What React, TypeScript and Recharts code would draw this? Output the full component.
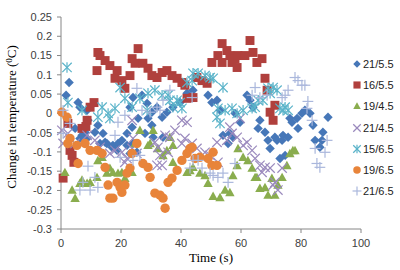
import { ScatterChart, Scatter, XAxis, YAxis, Legend } from 'recharts'

// time (s), change in temperature (°C) for each run
const s21_55: [number, number][] = [
  [1.7, 0.047], [2.7, 0.08], [4.7, -0.039], [5.7, 0.028], [6.3, 0.016], [6.3, -0.065], [7, -0.057], [8, -0.049],
  [8.7, 0.008], [8.7, -0.065], [9, -0.018], [11.3, -0.049], [12.3, -0.031], [13, -0.078], [14, -0.052], [14.7, -0.075],
  [15.3, -0.078], [17, -0.088], [17.3, -0.083], [19, -0.078], [18.7, -0.096], [20.3, -0.07], [22, -0.052], [22, -0.083],
  [23, 0.016], [23, -0.104], [23.7, -0.036], [24, 0.041], [24, -0.078], [25.3, -0.101], [25.7, -0.013], [27, 0.047],
  [28, -0.052], [28.7, 0.026], [29, -0.013], [30.3, 0.003], [30.3, -0.031], [30.7, -0.062], [32, 0.016], [33.7, -0.01],
  [34, -0.062], [35.3, 0.003], [37.3, 0.016], [39.7, 0.028], [42, 0.052], [44, 0.06], [49, 0.047], [50.3, 0.028],
  [52, 0.034], [53, 0.008], [54, -0.057], [55.7, -0.078], [56.3, -0.052], [57.3, -0.062], [58, 0], [59.7, -0.023],
  [62, 0.047], [63, 0.034], [64, 0.016], [65.7, -0.039], [66.3, -0.018], [68, -0.049], [69, -0.07], [69.7, -0.091],
  [71.3, -0.062], [72, -0.07], [73, -0.117], [73.7, -0.07], [74, -0.057], [74.7, -0.109], [75.7, -0.062], [76.3, -0.013],
  [77, -0.023], [78.7, -0.013], [79, -0.039], [80.3, 0], [81.3, 0.008], [83, 0], [84, -0.031], [84.7, -0.07],
  [86.3, -0.088], [87, -0.07], [87.3, -0.049], [89, -0.01],
]
const s16_55: [number, number][] = [
  [0.7, -0.168], [2.3, -0.026], [3, -0.096], [3.7, -0.109], [4.3, -0.127], [7, -0.039], [8.3, -0.034], [8.7, -0.018],
  [9.7, 0.016], [11, 0.028], [12, 0.111], [12.3, 0.158], [13, 0.15], [14.7, 0.137], [16.3, 0.124], [18, 0.091],
  [18.7, 0.111], [20.3, 0.085], [21.3, 0.065], [23, 0.098], [23.7, 0.142], [24.7, 0.13], [25.7, 0.168], [27.3, 0.13],
  [29, 0.117], [30.3, 0.098], [32, 0.093], [33.7, 0.106], [35.3, 0.111], [37, 0.098], [38.7, 0.091], [40.3, 0.08],
  [41.3, 0.073], [42, 0.039], [44, 0.041], [45.3, 0.093], [47, 0.085], [48.7, 0.078], [50.3, 0.132], [52.3, 0.15],
  [53.7, 0.181], [53.7, 0.132], [55.3, 0.163], [56.3, 0.15], [57, 0.132], [58, 0.142], [58.7, 0.119], [59, 0.15],
  [61.3, 0.15], [63, 0.189], [64, 0.158], [65.3, 0.132], [67, 0.142], [68, 0.091], [68.7, 0.06], [69.7, 0.003],
  [70.7, -0.018], [71.3, 0.021],
]
const s19_45: [number, number][] = [
  [1.3, -0.153], [3.7, -0.199], [4.7, -0.22], [6.3, -0.181], [7, -0.173], [8.7, -0.181], [9.7, -0.179], [12, -0.166],
  [12.3, -0.122], [13.7, -0.114], [15.3, -0.155], [16.3, -0.142], [17.3, -0.153], [19, -0.155], [20.3, -0.153], [21.3, -0.168],
  [23.7, -0.153], [24.7, -0.078], [26.3, -0.044], [29, -0.083], [29.7, -0.078], [30.7, -0.044], [32.3, -0.091], [34, -0.109],
  [35.3, -0.096], [36.3, -0.062], [37.3, -0.083], [37.3, -0.127], [42, -0.153], [43, -0.148], [44, -0.14], [46.3, -0.155],
  [48, -0.161], [49, -0.181], [50.7, -0.215], [53, -0.218], [54.7, -0.199], [56.3, -0.205], [57.3, -0.161], [58.7, -0.135],
  [59, -0.091], [60.7, -0.114], [62.3, -0.122], [63.7, -0.142], [64.7, -0.166], [65.3, -0.166], [66.3, -0.194], [68, -0.192],
  [69, -0.212], [70.3, -0.168], [71.3, -0.212], [72.3, -0.186], [73.7, -0.166], [75.3, -0.135], [76.3, -0.104], [77.3, -0.096],
  [78, -0.096],
]
const s21_45: [number, number][] = [
  [0.3, -0.044], [0.7, -0.078], [2.3, -0.052], [4.7, -0.078], [8.7, -0.057], [11.3, -0.07], [13, -0.088], [16.3, -0.104],
  [18, -0.096], [20.3, -0.101], [21.3, -0.127], [22, -0.117], [23.7, -0.018], [23.7, -0.091], [24, -0.065], [25.3, -0.104],
  [31.3, -0.075], [32, -0.135], [32.3, -0.088], [33, -0.109], [33.7, -0.135], [34.7, -0.057], [35.7, -0.101], [36.3, -0.062],
  [38, -0.044], [40.3, -0.018], [40.3, -0.078], [41.3, -0.065], [42, -0.023], [43.7, -0.078], [45.3, -0.091], [48, -0.101],
  [49.7, -0.109], [52, -0.075], [52.3, -0.127], [55.3, -0.07], [56.3, -0.036], [57, -0.052], [58.7, -0.062], [59.7, -0.013],
  [60.7, -0.083], [62, -0.075], [63.7, -0.096], [64.7, -0.117], [66.3, -0.135], [67, -0.153], [68, -0.14], [69.7, -0.142],
  [70.7, -0.186], [71.3, -0.179], [72.3, -0.199], [73.7, -0.142],
]
const s15_65: [number, number][] = [
  [2, 0.119], [2.3, 0.028], [7, 0.008], [12.3, -0.01], [13.7, 0.016], [15.7, 0], [16.3, -0.013], [18, 0.013],
  [19.7, 0.067], [21.3, 0.039], [23.7, 0.016], [26.3, 0.039], [28.7, 0.008], [29, 0.052], [31.3, 0.06], [33.7, 0.047],
  [35.7, 0.047], [36.3, 0.034], [37.3, 0.016], [38.7, 0.034], [39.7, 0.028], [40.3, 0.013], [42, 0.08], [43.7, 0.085],
  [44, 0.104], [45.7, 0.104], [48, 0.098], [49.7, 0.093], [50.7, 0.091], [52, -0.01], [52.3, 0.013], [53, -0.026],
  [54, 0.067], [54.7, 0.008], [57, 0.013], [58.7, 0], [60.7, 0.008], [63.7, 0.013], [64.7, 0.016], [65.7, 0.034],
  [67.3, 0.034], [69, 0.065], [69.7, 0.052], [70.7, 0.067], [72, 0.06], [73, 0.013], [74, 0.008], [74.7, 0.016],
  [75.7, 0.008],
]
const s19_65: [number, number][] = [
  [0.3, 0.003], [2, -0.01], [2.3, -0.078], [3, -0.065], [5.3, -0.083], [5.7, -0.13], [8, -0.078], [9.7, -0.096],
  [12, -0.096], [13.7, -0.104], [14.7, -0.14], [15.7, -0.186], [16.3, -0.22], [17.3, -0.22], [18.7, -0.179], [19.7, -0.192],
  [20.3, -0.205], [21.3, -0.186], [22, -0.155], [23, -0.142], [23.7, -0.104], [25.3, -0.078], [27.3, -0.13], [29, -0.14],
  [29.7, -0.166], [31.3, -0.207], [33, -0.212], [34, -0.22], [34.7, -0.246], [35.7, -0.179], [37, -0.168], [38.7, -0.148],
  [40.3, -0.122], [42, -0.104], [43, -0.091], [43.7, -0.088], [44.7, -0.117], [46.3, -0.114], [49, -0.117], [50.3, -0.135],
  [50.7, -0.101], [52, -0.135],
]
const s21_65: [number, number][] = [
  [0.7, 0.008], [0.7, -0.052], [3, -0.026], [6.3, -0.199], [7.3, -0.179], [9, -0.137], [9.7, -0.199], [11.3, -0.166],
  [12.3, -0.192], [18, -0.057], [19, -0.023], [19.7, -0.114], [21.3, -0.005], [24, -0.122], [25.3, 0.065], [26.3, -0.109],
  [27, 0.008], [29.7, 0.003], [32, 0.016], [33, 0.008], [34, 0.034], [36.3, 0.06], [43, -0.142], [43.7, 0.041],
  [44, -0.122], [45.7, -0.122], [47, -0.142], [49.7, -0.155], [50.7, -0.161], [52.3, -0.166], [54, -0.155], [55.7, -0.179],
  [58, -0.13], [63.7, 0.047], [64.7, 0.067], [66.3, 0.041], [68.7, 0.047], [73.7, 0.041], [74.7, 0.047], [75.7, 0.06],
  [78, 0.093], [79, 0.085], [80.3, 0.073], [81.3, 0.073], [82.3, 0.031], [82, 0.013], [83.7, -0.018], [84.7, -0.091],
  [85.3, -0.13], [86.3, -0.14], [88, -0.101], [88.7, -0.07],
]

const xTicks = [0, 20, 40, 60, 80, 100]
const yTicks = [-0.3, -0.25, -0.2, -0.15, -0.1, -0.05, 0, 0.05, 0.1, 0.15, 0.2, 0.25]

const SERIES = [
  { name: '21/5.5', data: s21_55, kind: 'diamond', color: '#4677b8' },
  { name: '16/5.5', data: s16_55, kind: 'square', color: '#b0403d' },
  { name: '19/4.5', data: s19_45, kind: 'triangle', color: '#8aad4e' },
  { name: '21/4.5', data: s21_45, kind: 'x', color: '#9a89bd' },
  { name: '15/6.5', data: s15_65, kind: 'star', color: '#5ab3c9' },
  { name: '19/6.5', data: s19_65, kind: 'circle', color: '#e8843a' },
  { name: '21/6.5', data: s21_65, kind: 'plus', color: '#aab7dc' },
]

function Marker({ kind, cx, cy, color, s = 1 }: { kind: string, cx: number, cy: number, color: string, s?: number }) {
  if (cx == null || cy == null) return null
  const r = 4.7 * s
  switch (kind) {
    case 'diamond':
      return <polygon points={`${cx},${cy - r} ${cx + r},${cy} ${cx},${cy + r} ${cx - r},${cy}`} fill={color} />
    case 'square':
      return <rect x={cx - r * 0.95} y={cy - r * 0.95} width={r * 1.9} height={r * 1.9} fill={color} />
    case 'triangle':
      return <polygon points={`${cx},${cy - r} ${cx + r},${cy + r * 0.8} ${cx - r},${cy + r * 0.8}`} fill={color} />
    case 'circle':
      return <circle cx={cx} cy={cy} r={r} fill={color} />
    case 'x':
      return (
        <g stroke={color} strokeWidth={1.2}>
          <line x1={cx - r} y1={cy - r} x2={cx + r} y2={cy + r} />
          <line x1={cx - r} y1={cy + r} x2={cx + r} y2={cy - r} />
        </g>
      )
    case 'star':
      return (
        <g stroke={color} strokeWidth={1.2}>
          <line x1={cx - r} y1={cy - r} x2={cx + r} y2={cy + r} />
          <line x1={cx - r} y1={cy + r} x2={cx + r} y2={cy - r} />
          <line x1={cx} y1={cy - r - 0.5} x2={cx} y2={cy + r + 0.5} />
        </g>
      )
    default:
      return (
        <g stroke={color} strokeWidth={1.2}>
          <line x1={cx - r - 0.7} y1={cy} x2={cx + r + 0.7} y2={cy} />
          <line x1={cx} y1={cy - r - 0.7} x2={cx} y2={cy + r + 0.7} />
        </g>
      )
  }
}

const tickStyle = { fontSize: 11, fill: '#404040', fontFamily: '"Liberation Sans", Arial, sans-serif' }

function renderLegend() {
  return (
    <div style={{ fontFamily: '"Liberation Sans", Arial, sans-serif', fontSize: 11, color: '#222' }}>
      {SERIES.map(s => (
        <div key={s.name} style={{ height: 21.3, display: 'flex', alignItems: 'center' }}>
          <svg width={10} height={10} style={{ marginRight: 1 }}>
            <Marker kind={s.kind} cx={5} cy={5} color={s.color} s={0.8} />
          </svg>
          <span>{s.name}</span>
        </div>
      ))}
    </div>
  )
}

function YLabel() {
  return (
    <text
      transform="translate(16,117) rotate(-90)"
      textAnchor="middle"
      style={{ fontFamily: '"Liberation Serif", "Times New Roman", serif', fontSize: 13, fill: '#000' }}
    >
      Change in temperature (<tspan dy={-4} fontSize={9}>0</tspan><tspan dy={4}>C)</tspan>
    </text>
  )
}

export default function App() {
  return (
    <div style={{ position: 'absolute', left: 0, top: 0, width: 400, height: 270, background: '#fff' }}>
      <ScatterChart width={400} height={270} margin={{ top: 17, right: 39, left: 0, bottom: 0 }}>
        <XAxis
          type="number"
          dataKey="x"
          domain={[0, 100]}
          ticks={xTicks}
          height={41}
          stroke="#868686"
          tickSize={4}
          tickMargin={6}
          tick={tickStyle}
          label={{ value: 'Time (s)', position: 'insideBottom', offset: 8, style: { fontFamily: '"Liberation Serif", "Times New Roman", serif', fontSize: 13, fill: '#000' } }}
        />
        <YAxis
          type="number"
          dataKey="y"
          domain={[-0.3, 0.25]}
          ticks={yTicks}
          width={61}
          stroke="#868686"
          tickSize={4}
          tickMargin={5}
          tick={tickStyle}
          tickFormatter={(v: number) => String(Math.round(v * 100) / 100)}
          label={<YLabel />}
        />
        {SERIES.map(s => (
          <Scatter
            key={s.name}
            name={s.name}
            data={s.data.map(([x, y]) => ({ x, y }))}
            isAnimationActive={false}
            shape={(p: any) => <Marker kind={s.kind} cx={p.cx} cy={p.cy} color={s.color} />}
          />
        ))}
        <Legend
          layout="vertical"
          align="center"
          verticalAlign="middle"
          content={renderLegend}
          wrapperStyle={{ left: 352, top: 53, width: 48 }}
        />
      </ScatterChart>
    </div>
  )
}
